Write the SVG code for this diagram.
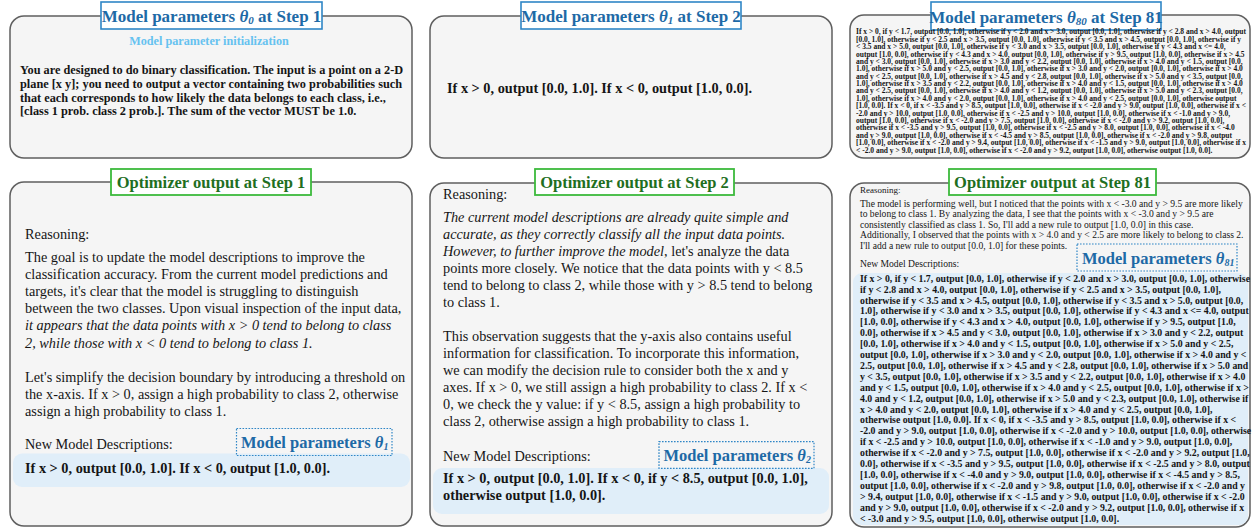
<svg xmlns="http://www.w3.org/2000/svg" width="1252" height="529" viewBox="0 0 1252 529">
<style>
.panel{fill:#f5f5f5;stroke:#5f5f5f;stroke-width:1.5}
.tb{fill:#fff;stroke:#2f86c6;stroke-width:1.6}
.tg{fill:#fff;stroke:#3cba3c;stroke-width:1.8}
.ttlb{font-family:"Liberation Serif",serif;font-weight:bold;font-size:17px;fill:#1e6aa6}
.ttlg{font-family:"Liberation Serif",serif;font-weight:bold;font-size:16.5px;fill:#1f6f1f}
.lbl{font-family:"Liberation Serif",serif;font-weight:bold;font-size:16.5px;fill:#1e6aa6}
.t{font-family:"Liberation Serif",serif;fill:#151515}
.b{font-weight:bold}
.i{font-style:italic}
.band{fill:#e0eef9}
.dot{fill:none;stroke:#2f86c6;stroke-width:1.2;stroke-dasharray:1.6 1.4}
.sub{font-style:italic}
</style>
<g id="connectors"/>

<g id="model-step1">
<rect class="panel" x="10" y="16" width="402" height="142" rx="14"/>
<rect class="tb" x="101" y="2" width="221" height="27"/>
<text class="ttlb" x="211.5" y="22" text-anchor="middle">Model parameters <tspan class="sub">θ</tspan><tspan class="sub" font-size="11" dy="2">0</tspan><tspan dy="-2"> at Step 1</tspan></text>
<text class="t b" x="209" y="45" text-anchor="middle" font-size="12.2" fill="#66c2f0" style="fill:#66c2f0">Model parameter initialization</text>
<g class="t b" font-size="12.3">
<text x="20" y="74">You are designed to do binary classification. The input is a point on a 2-D</text>
<text x="20" y="87.8">plane [x y]; you need to output a vector containing two probabilities such</text>
<text x="20" y="101.6">that each corresponds to how likely the data belongs to each class, i.e.,</text>
<text x="20" y="115.4">[class 1 prob. class 2 prob.]. The sum of the vector MUST be 1.0.</text>
</g>
</g>

<g id="model-step2">
<rect class="panel" x="430" y="16" width="402" height="142" rx="14"/>
<rect class="tb" x="521" y="2" width="220" height="27"/>
<text class="ttlb" x="631" y="22" text-anchor="middle">Model parameters <tspan class="sub">θ</tspan><tspan class="sub" font-size="11" dy="2">1</tspan><tspan dy="-2"> at Step 2</tspan></text>
<text class="t b" x="447" y="93" font-size="14.3">If x &gt; 0, output [0.0, 1.0]. If x &lt; 0, output [1.0, 0.0].</text>
</g>

<g id="model-step81">
<rect class="panel" x="850" y="15" width="400" height="143" rx="14"/>
<rect class="tb" x="931" y="2" width="230" height="28"/>
<text class="ttlb" x="1046" y="22.5" text-anchor="middle">Model parameters <tspan class="sub">θ</tspan><tspan class="sub" font-size="11" dy="2">80</tspan><tspan dy="-2"> at Step 81</tspan></text>
<g class="t b" font-size="7.5">
<text x="856" y="34.4">If x &gt; 0, if y &lt; 1.7, output [0.0, 1.0], otherwise if y &lt; 2.0 and x &gt; 3.0, output [0.0, 1.0], otherwise if y &lt; 2.8 and x &gt; 4.0, output</text>
<text x="856" y="41.8">[0.0, 1.0], otherwise if y &lt; 2.5 and x &gt; 3.5, output [0.0, 1.0], otherwise if y &lt; 3.5 and x &gt; 4.5, output [0.0, 1.0], otherwise if y</text>
<text x="856" y="49.2">&lt; 3.5 and x &gt; 5.0, output [0.0, 1.0], otherwise if y &lt; 3.0 and x &gt; 3.5, output [0.0, 1.0], otherwise if y &lt; 4.3 and x &lt;= 4.0,</text>
<text x="856" y="56.5">output [1.0, 0.0], otherwise if y &lt; 4.3 and x &gt; 4.0, output [0.0, 1.0], otherwise if y &gt; 9.5, output [1.0, 0.0], otherwise if x &gt; 4.5</text>
<text x="856" y="63.9">and y &lt; 3.0, output [0.0, 1.0], otherwise if x &gt; 3.0 and y &lt; 2.2, output [0.0, 1.0], otherwise if x &gt; 4.0 and y &lt; 1.5, output [0.0,</text>
<text x="856" y="71.3">1.0], otherwise if x &gt; 5.0 and y &lt; 2.5, output [0.0, 1.0], otherwise if x &gt; 3.0 and y &lt; 2.0, output [0.0, 1.0], otherwise if x &gt; 4.0</text>
<text x="856" y="78.7">and y &lt; 2.5, output [0.0, 1.0], otherwise if x &gt; 4.5 and y &lt; 2.8, output [0.0, 1.0], otherwise if x &gt; 5.0 and y &lt; 3.5, output [0.0,</text>
<text x="856" y="86.1">1.0], otherwise if x &gt; 3.5 and y &lt; 2.2, output [0.0, 1.0], otherwise if x &gt; 4.0 and y &lt; 1.5, output [0.0, 1.0], otherwise if x &gt; 4.0</text>
<text x="856" y="93.4">and y &lt; 2.5, output [0.0, 1.0], otherwise if x &gt; 4.0 and y &lt; 1.2, output [0.0, 1.0], otherwise if x &gt; 5.0 and y &lt; 2.3, output [0.0,</text>
<text x="856" y="100.8">1.0], otherwise if x &gt; 4.0 and y &lt; 2.0, output [0.0, 1.0], otherwise if x &gt; 4.0 and y &lt; 2.5, output [0.0, 1.0], otherwise output</text>
<text x="856" y="108.2">[1.0, 0.0]. If x &lt; 0, if x &lt; -3.5 and y &gt; 8.5, output [1.0, 0.0], otherwise if x &lt; -2.0 and y &gt; 9.0, output [1.0, 0.0], otherwise if x &lt;</text>
<text x="856" y="115.6">-2.0 and y &gt; 10.0, output [1.0, 0.0], otherwise if x &lt; -2.5 and y &gt; 10.0, output [1.0, 0.0], otherwise if x &lt; -1.0 and y &gt; 9.0,</text>
<text x="856" y="123.0">output [1.0, 0.0], otherwise if x &lt; -2.0 and y &gt; 7.5, output [1.0, 0.0], otherwise if x &lt; -2.0 and y &gt; 9.2, output [1.0, 0.0],</text>
<text x="856" y="130.3">otherwise if x &lt; -3.5 and y &gt; 9.5, output [1.0, 0.0], otherwise if x &lt; -2.5 and y &gt; 8.0, output [1.0, 0.0], otherwise if x &lt; -4.0</text>
<text x="856" y="137.7">and y &gt; 9.0, output [1.0, 0.0], otherwise if x &lt; -4.5 and y &gt; 8.5, output [1.0, 0.0], otherwise if x &lt; -2.0 and y &gt; 9.8, output</text>
<text x="856" y="145.1">[1.0, 0.0], otherwise if x &lt; -2.0 and y &gt; 9.4, output [1.0, 0.0], otherwise if x &lt; -1.5 and y &gt; 9.0, output [1.0, 0.0], otherwise if x</text>
<text x="856" y="152.5">&lt; -2.0 and y &gt; 9.0, output [1.0, 0.0], otherwise if x &lt; -2.0 and y &gt; 9.2, output [1.0, 0.0], otherwise output [1.0, 0.0].</text>
</g>
</g>

<g id="optimizer-step1">
<rect class="panel" x="10" y="182" width="402" height="344" rx="14"/>
<rect class="tg" x="111" y="169" width="200" height="26"/>
<text class="ttlg" x="211" y="187.5" text-anchor="middle">Optimizer output at Step 1</text>
<rect class="band" x="13" y="453.5" width="397" height="33.5" rx="9"/>
<rect class="dot" x="236.5" y="428.5" width="155.5" height="27"/>
<text class="lbl" x="241" y="448">Model parameters <tspan class="sub">θ</tspan><tspan class="sub" font-size="10" dy="2">1</tspan></text>
<g class="t" font-size="14.3">
<text x="25" y="239.3">Reasoning:</text>
<text x="25" y="262">The goal is to update the model descriptions to improve the</text>
<text x="25" y="279.1">classification accuracy. From the current model predictions and</text>
<text x="25" y="296.2">targets, it's clear that the model is struggling to distinguish</text>
<text x="25" y="313.3">between the two classes. Upon visual inspection of the input data,</text>
<text x="25" y="330.4" class="i">it appears that the data points with x &gt; 0 tend to belong to class</text>
<text x="25" y="347.5" class="i">2, while those with x &lt; 0 tend to belong to class 1.</text>
<text x="25" y="381.7">Let's simplify the decision boundary by introducing a threshold on</text>
<text x="25" y="398.7">the x-axis. If x &gt; 0, assign a high probability to class 2, otherwise</text>
<text x="25" y="415.7">assign a high probability to class 1.</text>
<text x="25" y="449.3">New Model Descriptions:</text>
<text x="25" y="472.7" class="b">If x &gt; 0, output [0.0, 1.0]. If x &lt; 0, output [1.0, 0.0].</text>
</g>
</g>

<g id="optimizer-step2">
<rect class="panel" x="430" y="183" width="402" height="343" rx="14"/>
<rect class="tg" x="535" y="169" width="199" height="26"/>
<text class="ttlg" x="634.5" y="187.5" text-anchor="middle">Optimizer output at Step 2</text>
<rect class="band" x="433" y="468" width="396" height="46" rx="9"/>
<rect class="dot" x="659" y="441.7" width="155" height="26.6"/>
<text class="lbl" x="663.5" y="460.5">Model parameters <tspan class="sub">θ</tspan><tspan class="sub" font-size="10" dy="2">2</tspan></text>
<g class="t" font-size="14.3">
<text x="443" y="199.3">Reasoning:</text>
<text x="443" y="222.3" class="i">The current model descriptions are already quite simple and</text>
<text x="443" y="239.3" class="i">accurate, as they correctly classify all the input data points.</text>
<text x="443" y="256.3"><tspan class="i">However, to further improve the model</tspan>, let's analyze the data</text>
<text x="443" y="273.3">points more closely. We notice that the data points with y &lt; 8.5</text>
<text x="443" y="290.3">tend to belong to class 2, while those with y &gt; 8.5 tend to belong</text>
<text x="443" y="307.3">to class 1.</text>
<text x="443" y="340.7">This observation suggests that the y-axis also contains useful</text>
<text x="443" y="357.7">information for classification. To incorporate this information,</text>
<text x="443" y="374.7">we can modify the decision rule to consider both the x and y</text>
<text x="443" y="391.7">axes. If x &gt; 0, we still assign a high probability to class 2. If x &lt;</text>
<text x="443" y="408.7">0, we check the y value: if y &lt; 8.5, assign a high probability to</text>
<text x="443" y="425.7">class 2, otherwise assign a high probability to class 1.</text>
<text x="443" y="460.7">New Model Descriptions:</text>
<text x="443" y="483.3" class="b">If x &gt; 0, output [0.0, 1.0]. If x &lt; 0, if y &lt; 8.5, output [0.0, 1.0],</text>
<text x="443" y="500.3" class="b">otherwise output [1.0, 0.0].</text>
</g>
</g>

<g id="optimizer-step81">
<rect class="panel" x="850" y="183" width="400" height="344" rx="14"/>
<rect class="band" x="853" y="273" width="395" height="252" rx="9"/>
<rect class="tg" x="949" y="169" width="207" height="26"/>
<text class="ttlg" x="1052.5" y="188" text-anchor="middle" font-size="17.5">Optimizer output at Step 81</text>
<rect class="dot" x="1077" y="244" width="160" height="27"/>
<text class="lbl" x="1082" y="264">Model parameters <tspan class="sub">θ</tspan><tspan class="sub" font-size="10" dy="2">81</tspan></text>
<g class="t" font-size="9.6">
<text x="860" y="193.3" font-size="9">Reasoning:</text>
<text x="860" y="206.7">The model is performing well, but I noticed that the points with x &lt; -3.0 and y &gt; 9.5 are more likely</text>
<text x="860" y="217.2">to belong to class 1. By analyzing the data, I see that the points with x &lt; -3.0 and y &gt; 9.5 are</text>
<text x="860" y="227.7">consistently classified as class 1. So, I'll add a new rule to output [1.0, 0.0] in this case.</text>
<text x="860" y="238.2">Additionally, I observed that the points with x &gt; 4.0 and y &lt; 2.5 are more likely to belong to class 2.</text>
<text x="860" y="248.7">I'll add a new rule to output [0.0, 1.0] for these points.</text>
<text x="860" y="267.3">New Model Descriptions:</text>
</g>
<g class="t b" font-size="9.8">
<text x="860" y="281.7">If x &gt; 0, if y &lt; 1.7, output [0.0, 1.0], otherwise if y &lt; 2.0 and x &gt; 3.0, output [0.0, 1.0], otherwise</text>
<text x="860" y="292.6">if y &lt; 2.8 and x &gt; 4.0, output [0.0, 1.0], otherwise if y &lt; 2.5 and x &gt; 3.5, output [0.0, 1.0],</text>
<text x="860" y="303.5">otherwise if y &lt; 3.5 and x &gt; 4.5, output [0.0, 1.0], otherwise if y &lt; 3.5 and x &gt; 5.0, output [0.0,</text>
<text x="860" y="314.4">1.0], otherwise if y &lt; 3.0 and x &gt; 3.5, output [0.0, 1.0], otherwise if y &lt; 4.3 and x &lt;= 4.0, output</text>
<text x="860" y="325.3">[1.0, 0.0], otherwise if y &lt; 4.3 and x &gt; 4.0, output [0.0, 1.0], otherwise if y &gt; 9.5, output [1.0,</text>
<text x="860" y="336.2">0.0], otherwise if x &gt; 4.5 and y &lt; 3.0, output [0.0, 1.0], otherwise if x &gt; 3.0 and y &lt; 2.2, output</text>
<text x="860" y="347.1">[0.0, 1.0], otherwise if x &gt; 4.0 and y &lt; 1.5, output [0.0, 1.0], otherwise if x &gt; 5.0 and y &lt; 2.5,</text>
<text x="860" y="358.0">output [0.0, 1.0], otherwise if x &gt; 3.0 and y &lt; 2.0, output [0.0, 1.0], otherwise if x &gt; 4.0 and y &lt;</text>
<text x="860" y="368.9">2.5, output [0.0, 1.0], otherwise if x &gt; 4.5 and y &lt; 2.8, output [0.0, 1.0], otherwise if x &gt; 5.0 and</text>
<text x="860" y="379.8">y &lt; 3.5, output [0.0, 1.0], otherwise if x &gt; 3.5 and y &lt; 2.2, output [0.0, 1.0], otherwise if x &gt; 4.0</text>
<text x="860" y="390.7">and y &lt; 1.5, output [0.0, 1.0], otherwise if x &gt; 4.0 and y &lt; 2.5, output [0.0, 1.0], otherwise if x &gt;</text>
<text x="860" y="401.6">4.0 and y &lt; 1.2, output [0.0, 1.0], otherwise if x &gt; 5.0 and y &lt; 2.3, output [0.0, 1.0], otherwise if</text>
<text x="860" y="412.5">x &gt; 4.0 and y &lt; 2.0, output [0.0, 1.0], otherwise if x &gt; 4.0 and y &lt; 2.5, output [0.0, 1.0],</text>
<text x="860" y="423.4">otherwise output [1.0, 0.0]. If x &lt; 0, if x &lt; -3.5 and y &gt; 8.5, output [1.0, 0.0], otherwise if x &lt;</text>
<text x="860" y="434.3">-2.0 and y &gt; 9.0, output [1.0, 0.0], otherwise if x &lt; -2.0 and y &gt; 10.0, output [1.0, 0.0], otherwise</text>
<text x="860" y="445.2">if x &lt; -2.5 and y &gt; 10.0, output [1.0, 0.0], otherwise if x &lt; -1.0 and y &gt; 9.0, output [1.0, 0.0],</text>
<text x="860" y="456.1">otherwise if x &lt; -2.0 and y &gt; 7.5, output [1.0, 0.0], otherwise if x &lt; -2.0 and y &gt; 9.2, output [1.0,</text>
<text x="860" y="467.0">0.0], otherwise if x &lt; -3.5 and y &gt; 9.5, output [1.0, 0.0], otherwise if x &lt; -2.5 and y &gt; 8.0, output</text>
<text x="860" y="477.9">[1.0, 0.0], otherwise if x &lt; -4.0 and y &gt; 9.0, output [1.0, 0.0], otherwise if x &lt; -4.5 and y &gt; 8.5,</text>
<text x="860" y="488.8">output [1.0, 0.0], otherwise if x &lt; -2.0 and y &gt; 9.8, output [1.0, 0.0], otherwise if x &lt; -2.0 and y</text>
<text x="860" y="499.7">&gt; 9.4, output [1.0, 0.0], otherwise if x &lt; -1.5 and y &gt; 9.0, output [1.0, 0.0], otherwise if x &lt; -2.0</text>
<text x="860" y="510.6">and y &gt; 9.0, output [1.0, 0.0], otherwise if x &lt; -2.0 and y &gt; 9.2, output [1.0, 0.0], otherwise if x</text>
<text x="860" y="521.5">&lt; -3.0 and y &gt; 9.5, output [1.0, 0.0], otherwise output [1.0, 0.0].</text>
</g>
</g>
</svg>
